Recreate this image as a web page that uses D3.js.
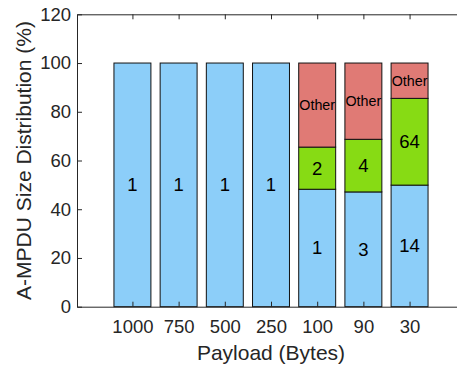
<!DOCTYPE html>
<html>
<head>
<meta charset="utf-8">
<script src="https://cdn.jsdelivr.net/npm/d3@7"></script>
<style>
  html, body { margin: 0; padding: 0; background: #fff; }
  svg { display: block; font-family: "Liberation Sans", Arial, Helvetica, sans-serif; }
</style>
</head>
<body>
<svg id="chart" width="457" height="367"></svg>
<script>
// Payload sizes (bytes) on the x axis
const categories = ["1000", "750", "500", "250", "100", "90", "30"];
// Share (%) of each A-MPDU size group per payload
const mostCommon = [100, 100, 100, 100, 48.2, 47.1, 49.9];
const secondCommon = [0, 0, 0, 0, 17.3, 21.6, 35.6];
const otherSizes = [0, 0, 0, 0, 34.5, 31.3, 14.5];
// Text placed inside each segment (A-MPDU size in frames)
const mostCommonLabels = ["1", "1", "1", "1", "1", "3", "14"];
const secondCommonLabels = ["", "", "", "", "2", "4", "64"];
const otherLabels = ["", "", "", "", "Other", "Other", "Other"];
const yTicks = [0, 20, 40, 60, 80, 100, 120];

const seriesKeys = ["most", "second", "other"];
const colors = { most: "#8ccef9", second: "#87db14", other: "#e07a75" };
const labelSets = { most: mostCommonLabels, second: secondCommonLabels, other: otherLabels };

const rows = categories.map((c, i) => ({
  cat: c, idx: i, most: mostCommon[i], second: secondCommon[i], other: otherSizes[i]
}));

const svg = d3.select("#chart");
const plotLeft = 77, plotRight = 465, plotTop = 14.3, plotBottom = 306.7;

const x = d3.scaleLinear().domain([-0.2, 8.2]).range([plotLeft, plotRight]);
const y = d3.scaleLinear().domain([0, 120]).range([plotBottom, plotTop]);
const barW = x(0.8) - x(0);

const stack = d3.stack().keys(seriesKeys);
const stacked = stack(rows);

const axisColor = "#262626";

// bars
const layers = svg.append("g").selectAll("g")
  .data(stacked).join("g")
  .attr("fill", d => colors[d.key]);

layers.selectAll("rect")
  .data(d => d.filter(s => s[1] - s[0] > 0))
  .join("rect")
  .attr("x", s => x(s.data.idx + 1) - barW / 2)
  .attr("width", barW)
  .attr("y", s => y(s[1]))
  .attr("height", s => y(s[0]) - y(s[1]))
  .attr("stroke", "#111")
  .attr("stroke-width", 1);

// segment labels
stacked.forEach(layer => {
  svg.append("g").selectAll("text")
    .data(layer.filter(s => s[1] - s[0] > 0 && labelSets[layer.key][s.data.idx] !== ""))
    .join("text")
    .attr("x", s => x(s.data.idx + 1))
    .attr("y", s => y((s[0] + s[1]) / 2))
    .attr("text-anchor", "middle")
    .attr("dominant-baseline", "central")
    .attr("font-size", layer.key === "other" ? 14.3 : 18.5)
    .attr("fill", "#000")
    .text(s => labelSets[layer.key][s.data.idx]);
});

// axes
const xTickVals = categories.map((c, i) => i + 1);

const yAxis = d3.axisLeft(y).tickValues(yTicks).tickSizeInner(-5).tickSizeOuter(0).tickPadding(6);
const gy = svg.append("g").attr("transform", `translate(${plotLeft},0)`).call(yAxis);

const xAxis = d3.axisBottom(x).tickValues(xTickVals)
  .tickFormat(v => categories[v - 1]).tickSizeInner(-5).tickSizeOuter(0).tickPadding(14);
const gx = svg.append("g").attr("transform", `translate(0,${plotBottom})`).call(xAxis);

const xTop = d3.axisTop(x).tickValues(xTickVals).tickFormat("").tickSizeInner(-5).tickSizeOuter(0);
const gt = svg.append("g").attr("transform", `translate(0,${plotTop})`).call(xTop);

[gy, gx, gt].forEach(g => {
  g.select(".domain").attr("stroke", axisColor).attr("stroke-width", 1);
  g.selectAll(".tick line").attr("stroke", axisColor).attr("stroke-width", 1);
  g.selectAll(".tick text").attr("fill", axisColor).attr("font-size", 18.5)
    .attr("font-family", "Liberation Sans, Arial, sans-serif");
});
gx.selectAll(".tick text").attr("dy", null).attr("y", 26.3);

// axis titles
svg.append("text")
  .attr("x", (plotLeft + plotRight) / 2)
  .attr("y", 360)
  .attr("text-anchor", "middle")
  .attr("font-size", 21)
  .attr("fill", axisColor)
  .text("Payload (Bytes)");

svg.append("text")
  .attr("transform", `translate(31,${(plotTop + plotBottom) / 2}) rotate(-90)`)
  .attr("text-anchor", "middle")
  .attr("font-size", 21)
  .attr("fill", axisColor)
  .text("A-MPDU Size Distribution (%)");
</script>
</body>
</html>
